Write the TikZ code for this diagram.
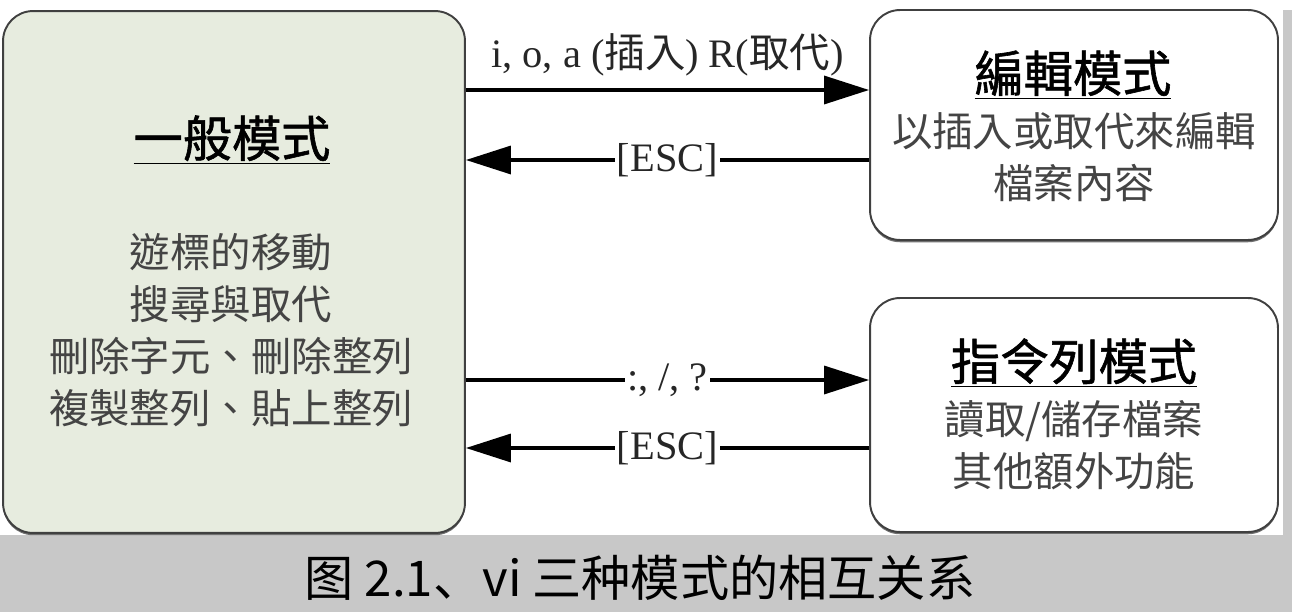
\documentclass[tikz,border=0pt]{standalone}
\usepackage{fontspec}
\setmainfont{Liberation Serif}
\newfontfamily\tcfont{Noto Sans CJK TC}
\newfontfamily\tctitlefont[FakeBold=1.2]{Noto Sans CJK TC}
\newfontfamily\scfont{Noto Sans CJK SC}
\usetikzlibrary{arrows.meta,shadows}

\definecolor{bandgray}{HTML}{C8C8C8}
\definecolor{boxgreen}{HTML}{E7ECDF}
\definecolor{textgray}{HTML}{444444}

\tikzset{
  modebox/.style={draw=black!75, line width=1.1pt, rounded corners=0.6cm, inner sep=0pt,
    drop shadow={shadow xshift=0pt, shadow yshift=-1.3pt, fill=black!70, opacity=0.8}},
  arr/.style={line width=1.9pt, -{Triangle[length=0.9cm,width=0.56cm]}},
  keylabel/.style={inner sep=1pt, text=black!85, font=\fontsize{23}{26}\selectfont},
  modetitle/.style={text=black, font=\tctitlefont\fontsize{28}{32}\selectfont},
  modetext/.style={align=center, text=textgray, font=\tcfont\fontsize{23}{29.6}\selectfont}
}

\begin{document}
\begin{tikzpicture}[x=0.02cm, y=-0.02cm]

    \useasboundingbox (0,0) rectangle (1292,612);

    % grey frame of the scan
    \fill[bandgray] (0,535) rectangle (1292,612);
    \fill[bandgray] (1283,10) rectangle (1292,535);

    % modes
    \node[modebox, fill=boxgreen, minimum width=9.24cm, minimum height=10.44cm] (general) at (234,272) {};
    \node[modebox, fill=white, minimum width=8.16cm, minimum height=4.6cm] (edit) at (1074,125) {};
    \node[modebox, fill=white, minimum width=8.16cm, minimum height=4.68cm] (cmdline) at (1074,415) {};

    \node[modetitle] (generaltitle) at (232,140) {\underline{一般模式}};
    \node[modetext] (generaltext) at (231,330) {遊標的移動\\搜尋與取代\\刪除字元、刪除整列\\複製整列、貼上整列};

    \node[modetitle] (edittitle) at (1073,75) {\underline{編輯模式}};
    \node[modetext] (edittext) at (1074,157) {以插入或取代來編輯\\檔案內容};

    \node[modetitle] (cmdtitle) at (1074,363) {\underline{指令列模式}};
    \node[modetext] (cmdtext) at (1074,445) {讀取/儲存檔案\\其他額外功能};

    % switching keys
    \draw[arr] (general.east |- 0,90) -- (edit.west |- 0,90)
        node[keylabel, midway, above=0.2cm] (insertkeys) {i, o, a ({\tcfont 插入}) R({\tcfont 取代})};
    \draw[arr] (edit.west |- 0,160) -- (general.east |- 0,160)
        node[keylabel, fill=white, midway] (escedit) {[ESC]};
    \draw[arr] (general.east |- 0,380) -- (cmdline.west |- 0,380)
        node[keylabel, fill=white, midway] (cmdkeys) {:, /, ?};
    \draw[arr] (cmdline.west |- 0,448) -- (general.east |- 0,448)
        node[keylabel, fill=white, midway] (esccmd) {[ESC]};

    % caption
    \node[font=\scfont\fontsize{28}{30}\selectfont] (caption) at (640,578) {图 2.1、vi 三种模式的相互关系};

\end{tikzpicture}
\end{document}
